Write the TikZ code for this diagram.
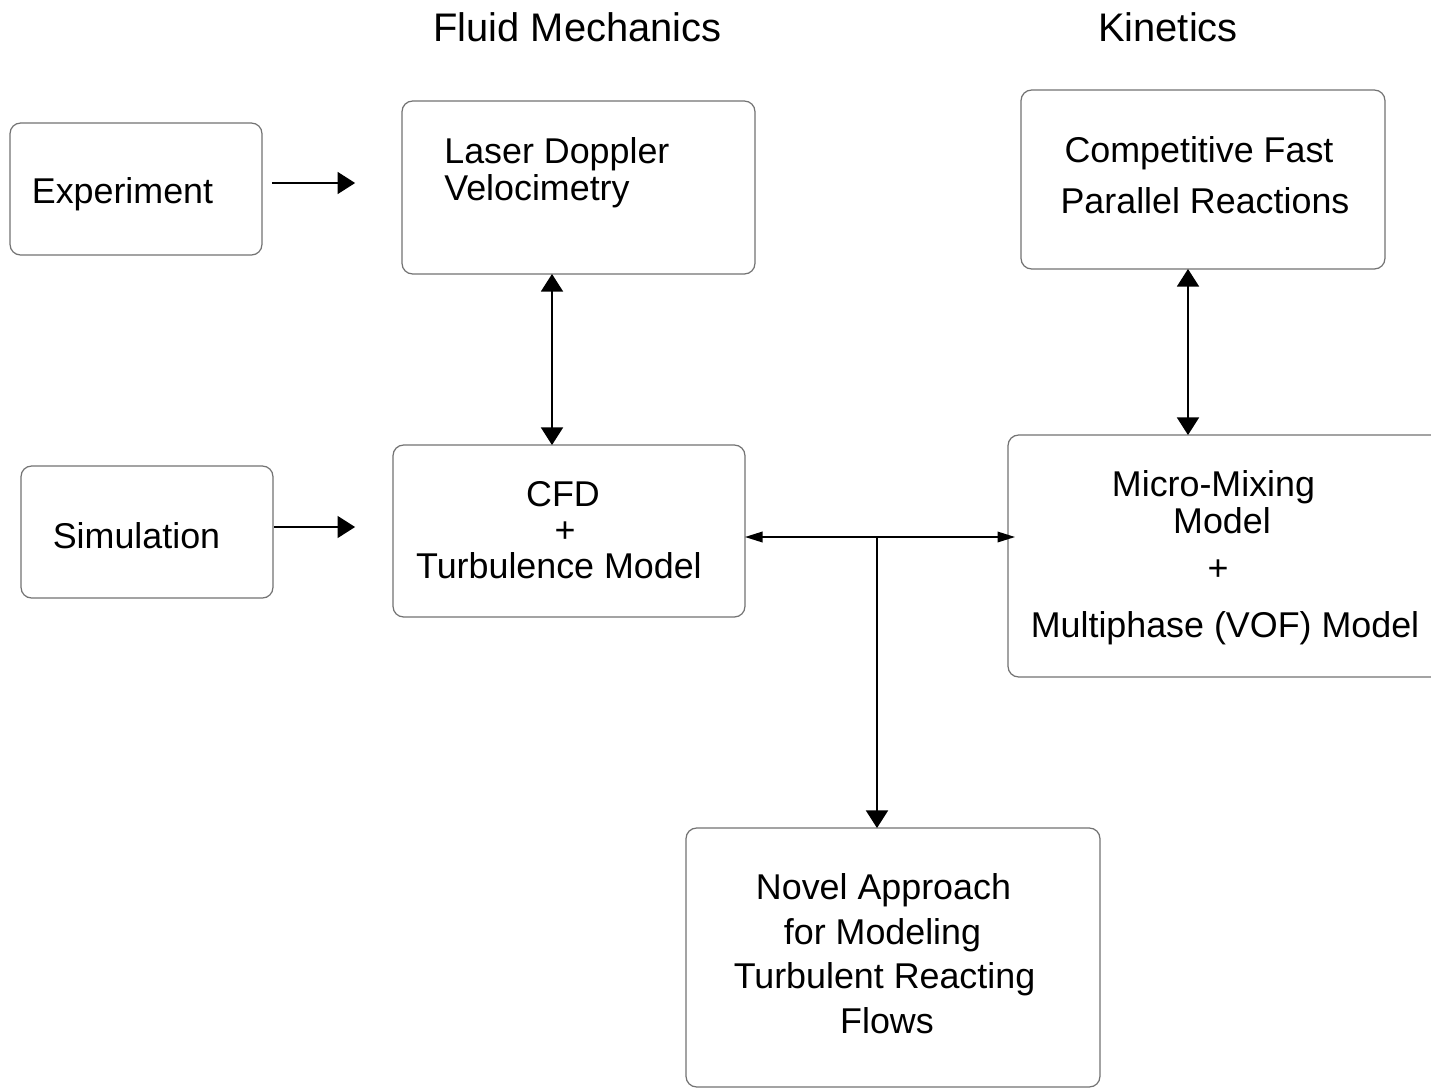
\documentclass[tikz,border=0pt]{standalone}
\usepackage{fontspec}
\setmainfont{Liberation Sans}
\usetikzlibrary{arrows.meta}
\tikzset{
  box/.style={draw=black!55, line width=0.7pt, rounded corners=6pt, outer sep=0pt, inner sep=0pt},
  txt/.style={inner sep=0pt, font=\fontsize{20.4pt}{24pt}\selectfont, text height=14.6pt, text depth=0pt},
  ttl/.style={inner sep=0pt, font=\fontsize{22.7pt}{26pt}\selectfont, text height=16.2pt, text depth=0pt},
  conn/.style={line width=1pt, draw=black},
  bigtip/.style={-{Triangle[length=10pt,width=12.5pt]}},
  dbltip/.style={{Triangle[length=10pt,width=12.5pt]}-{Triangle[length=10pt,width=12.5pt]}},
  hdbltip/.style={{Triangle[length=10pt,width=6pt]}-{Triangle[length=10pt,width=6pt]}},
}
\begin{document}
\begin{tikzpicture}[x=0.02cm, y=-0.02cm]
\clip (0,0) rectangle (1431,1089);
\fill[white] (0,0) rectangle (1431,1089);

% titles
\node[ttl] (tfm) at (577.5,27) {Fluid Mechanics};
\node[ttl] (tkin) at (1168,27) {Kinetics};

% boxes
\node[box, minimum width=5.04cm, minimum height=2.64cm] (exp) at (136,189) {};
\node[box, minimum width=7.06cm, minimum height=3.46cm] (ldv) at (578.5,187.5) {};
\node[box, minimum width=7.28cm, minimum height=3.58cm] (comp) at (1203,179.5) {};
\node[box, minimum width=5.04cm, minimum height=2.64cm] (sim) at (147,532) {};
\node[box, minimum width=7.04cm, minimum height=3.44cm] (cfd) at (569,531) {};
\node[box, minimum width=8.74cm, minimum height=4.84cm] (mm) at (1226.5,556) {};
\node[box, minimum width=8.28cm, minimum height=5.18cm] (nov) at (893,957.5) {};

% texts
\node[txt] (exp-t) at (122.5,191) {Experiment};
\node[txt, anchor=west] (ldv-t1) at (444,151) {Laser Doppler};
\node[txt, anchor=west] (ldv-t2) at (444,188) {Velocimetry};
\node[txt] (comp-t1) at (1199,150) {Competitive Fast};
\node[txt] (comp-t2) at (1205,201) {Parallel Reactions};
\node[txt] (sim-t) at (136.5,536) {Simulation};
\node[txt] (cfd-t1) at (563,494) {CFD};
\node[txt] (cfd-t2) at (565,530) {+};
\node[txt] (cfd-t3) at (559,566) {Turbulence Model};
\node[txt] (mm-t1) at (1213.5,484) {Micro-Mixing};
\node[txt] (mm-t2) at (1222,521) {Model};
\node[txt] (mm-t3) at (1218,568) {+};
\node[txt] (mm-t4) at (1225,625) {Multiphase (VOF) Model};
\node[txt] (nov-t1) at (883.5,887) {Novel Approach};
\node[txt] (nov-t2) at (882.5,932) {for Modeling};
\node[txt] (nov-t3) at (884.5,976) {Turbulent Reacting};
\node[txt] (nov-t4) at (887,1021) {Flows};

% connector helpers
\coordinate (r1) at (0,183);
\coordinate (r2) at (0,527);
\coordinate (c1) at (552,0);
\coordinate (c2) at (1188,0);
\coordinate (j) at (877,537);

% connectors
\draw[conn, bigtip, shorten <=5.7pt, shorten >=26.7pt] (exp.east |- r1) -- (ldv.west |- r1);
\draw[conn, bigtip, shorten <=0.6pt, shorten >=21.6pt] (sim.east |- r2) -- (cfd.west |- r2);
\draw[conn, dbltip] (ldv.south -| c1) -- (cfd.north -| c1);
\draw[conn, dbltip] (comp.south -| c2) -- (mm.north -| c2);
\draw[conn, hdbltip, shorten >=-4pt] (cfd.east |- j) -- (mm.west |- j);
\draw[conn, bigtip] (j) -- (nov.north -| j);
\end{tikzpicture}
\end{document}
